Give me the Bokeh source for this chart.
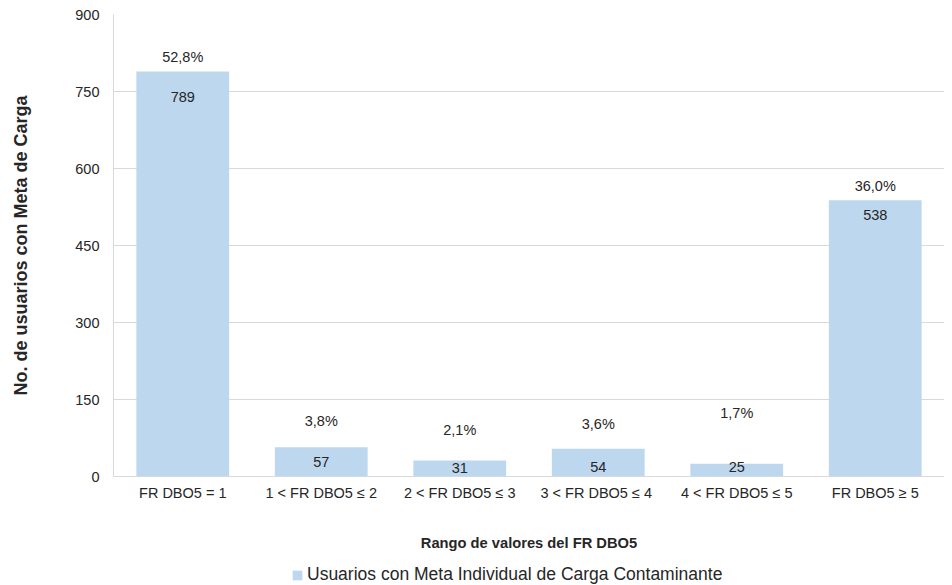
from bokeh.plotting import figure
from bokeh.models import ColumnDataSource, Legend, LegendItem, FixedTicker, Range1d
from bokeh.layouts import column
from bokeh.core.properties import value
from bokeh.embed import file_html
from bokeh.resources import INLINE

categories = ["FR DBO5 = 1", "1 < FR DBO5 \u2264 2", "2 < FR DBO5 \u2264 3",
              "3 < FR DBO5 \u2264  4", "4 < FR DBO5 \u2264 5", "FR DBO5 \u2265 5"]
usuarios = [789, 57, 31, 54, 25, 538]
porcentajes = ["52,8%", "3,8%", "2,1%", "3,6%", "1,7%", "36,0%"]
pct_label_pos = [818, 109, 90, 103, 123, 565]
val_label_pos = [740, 29, 16, 19, 19, 510]
y_ticks = [0, 150, 300, 450, 600, 750, 900]
series_name = "Usuarios con Meta Individual de Carga Contaminante"

FONT = "Liberation Sans"
TXT = "#262626"
BAR = "#BDD7EE"

src = ColumnDataSource(dict(cat=categories, v=usuarios, pct=porcentajes,
                            pp=pct_label_pos, vp=val_label_pos,
                            vt=[str(x) for x in usuarios]))

p = figure(x_range=categories, width=944, height=557, output_backend="svg",
           toolbar_location=None, min_border_left=113, min_border_right=0,
           min_border_top=14, min_border_bottom=81, outline_line_color=None)
p.y_range = Range1d(0, 900)
p.x_range.range_padding = 0

p.vbar(x="cat", top="v", width=0.67, source=src, fill_color=BAR,
       line_color=None)

p.text(x="cat", y="pp", text="pct", source=src, text_align="center",
       text_baseline="middle", text_font=value(FONT), text_font_size="14.5px",
       text_color=TXT)
p.text(x="cat", y="vp", text="vt", source=src, text_align="center",
       text_baseline="middle", text_font=value(FONT), text_font_size="14.5px",
       text_color=TXT)

p.yaxis.ticker = FixedTicker(ticks=y_ticks)
p.ygrid.grid_line_color = "#D9D9D9"
p.xgrid.grid_line_color = None

for ax in (p.xaxis[0], p.yaxis[0]):
    ax.major_tick_line_color = None
    ax.minor_tick_line_color = None
    ax.major_tick_out = 0
    ax.major_tick_in = 0
    ax.minor_tick_out = 0
    ax.major_label_text_font = FONT
    ax.major_label_text_font_size = "14.5px"
    ax.major_label_text_color = TXT
    ax.axis_label_text_font = FONT
    ax.axis_label_text_font_style = "bold"
    ax.axis_label_text_color = TXT
    ax.axis_line_color = "#D9D9D9"

p.yaxis.axis_label = "No. de usuarios con Meta de Carga"
p.yaxis.axis_label_text_font_size = "18px"
p.yaxis.major_label_standoff = 14
p.yaxis.axis_label_standoff = 41
p.xaxis.axis_label = "Rango de valores del FR DBO5"
p.xaxis.axis_label_text_font_size = "14.7px"
p.xaxis.major_label_standoff = 8
p.xaxis.axis_label_standoff = 31

# legend strip below the chart (bars drawn here fall outside its y range)
p2 = figure(width=944, height=28, output_backend="svg", toolbar_location=None,
            x_range=p.x_range, y_range=Range1d(1000, 1001), min_border=0,
            min_border_left=113, outline_line_color=None)
p2.axis.visible = False
p2.grid.visible = False
key = p2.vbar(x="cat", top="v", width=0.67, source=src, fill_color=BAR,
              line_color=None)

legend = Legend(items=[LegendItem(label=series_name, renderers=[key])],
                location=(178, 0), orientation="horizontal",
                border_line_color=None, background_fill_alpha=0,
                label_text_font=FONT,
                label_text_font_size="17.5px", label_text_color=TXT,
                glyph_width=12, glyph_height=12, padding=1, margin=0,
                label_standoff=4, label_height=18)
p2.add_layout(legend, "center")

open("out.html", "w").write(file_html(column(p, p2, spacing=0), INLINE))
